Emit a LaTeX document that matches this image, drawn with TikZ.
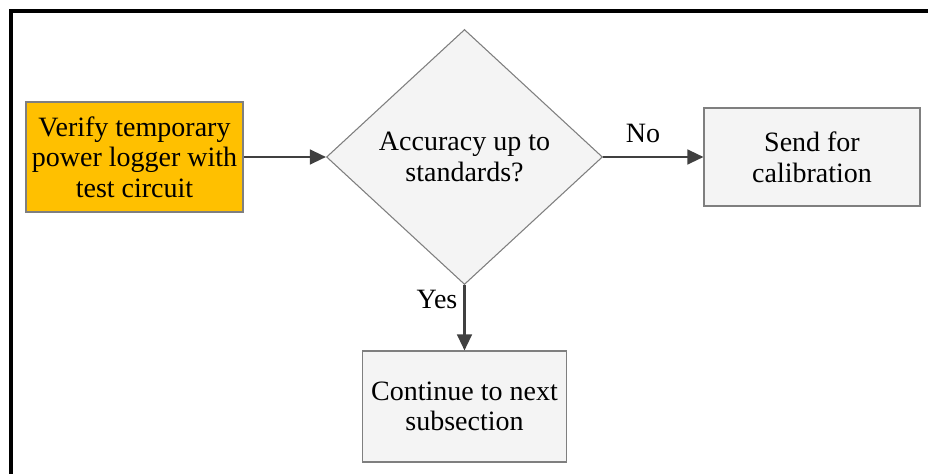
\documentclass[tikz,border=0pt]{standalone}
\usepackage{fontspec}
\setmainfont{Liberation Serif}
\usetikzlibrary{shapes.geometric, arrows.meta}

\definecolor{logorange}{HTML}{FFC000}
\definecolor{boxgray}{HTML}{F4F4F4}
\definecolor{edgegray}{HTML}{7F7F7F}
\definecolor{flowgray}{HTML}{404040}

\tikzset{
  stepbox/.style={draw=edgegray, line width=0.8pt, fill=boxgray, align=center,
    inner sep=0pt, font=\fontsize{21}{23}\selectfont},
  decide/.style={stepbox, diamond, aspect=1.08},
  flow/.style={draw=flowgray, line width=1.7pt, -{Triangle[length=12pt,width=11pt]}},
  flowlabel/.style={font=\fontsize{21}{23}\selectfont, inner sep=0pt}
}

\begin{document}
\begin{tikzpicture}[x=0.75pt,y=-0.75pt]
\path[use as bounding box] (0,0) rectangle (928,474);
\draw[line width=3pt] (11,474) -- (11,11) -- (928,11);

\node[stepbox, fill=logorange, minimum width=217*0.75pt, minimum height=110*0.75pt]
  (verify) at (134.5,157) {Verify temporary\\power logger with\\test circuit};
\node[decide, minimum width=276*0.75pt, minimum height=255*0.75pt]
  (check) at (464.5,157) {Accuracy up to\\standards?};
\node[stepbox, minimum width=216*0.75pt, minimum height=98*0.75pt]
  (calib) at (812,157) {Send for\\calibration};
\node[stepbox, minimum width=204*0.75pt, minimum height=111*0.75pt]
  (next) at (464.5,406.5) {Continue to next\\subsection};

\draw[flow] (verify.east) -- (check.west);
\draw[flow] (check.east) -- (calib.west);
\draw[flow] (check.south) -- (next.north);

\node[flowlabel] (nolabel) at (643,133) {No};
\node[flowlabel] (yeslabel) at (437,299) {Yes};
\end{tikzpicture}
\end{document}
